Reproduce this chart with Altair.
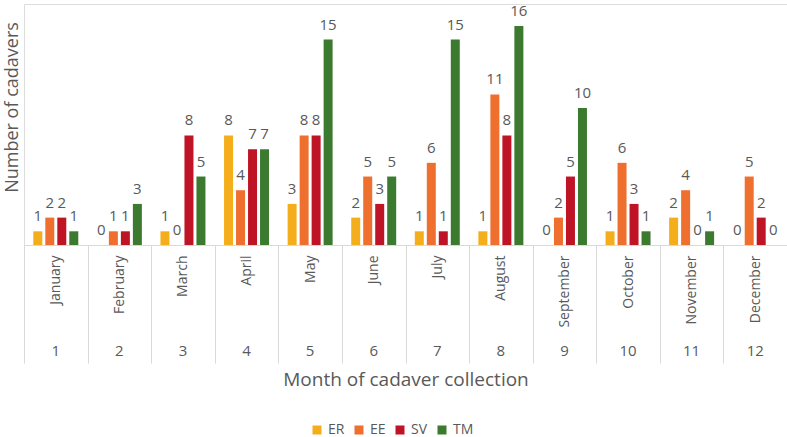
import altair as alt
import pandas as pd

months = ["January", "February", "March", "April", "May", "June", "July",
          "August", "September", "October", "November", "December"]
month_nums = [1, 2, 3, 4, 5, 6, 7, 8, 9, 10, 11, 12]
series = ["ER", "EE", "SV", "TM"]
er = [1, 0, 1, 8, 3, 2, 1, 1, 0, 1, 2, 0]
ee = [2, 1, 0, 4, 8, 5, 6, 11, 2, 6, 4, 5]
sv = [2, 1, 8, 7, 8, 3, 1, 8, 5, 3, 0, 2]
tm = [1, 3, 5, 7, 15, 5, 15, 16, 10, 1, 1, 0]
colors = ["#F5AE1B", "#EF6F2E", "#BE1425", "#3C7A2F"]

rows = []
for s, vals in zip(series, [er, ee, sv, tm]):
    for m, v in zip(months, vals):
        rows.append({"Month": m, "Series": s, "Value": v})
df = pd.DataFrame(rows)
mdf = pd.DataFrame({"Month": months, "Num": month_nums})

FONT = "Open Sans"
GRAY = "#595959"
LINE = "#D9D9D9"

xscale = alt.Scale(domain=months, paddingInner=0, paddingOuter=0)
offscale = alt.Scale(domain=series, paddingInner=0.25, paddingOuter=0.775)
yscale = alt.Scale(domain=[0, 17.6], nice=False)

x_enc = alt.X("Month:N", scale=xscale, sort=months,
              axis=alt.Axis(title="Month of cadaver collection", labelAngle=-90,
                            labelAlign="right", labelBaseline="middle",
                            labelPadding=-108, tickBand="extent", tickSize=118,
                            tickColor=LINE, domainColor=LINE, labelColor=GRAY,
                            labelFont=FONT, labelFontSize=14, titleFont=FONT,
                            titleFontSize=19, titleFontWeight="normal",
                            titleColor=GRAY, titleY=134, titleBaseline="middle",
                            titleX=381.5))

bars = alt.Chart(df).mark_bar().encode(
    x=x_enc,
    xOffset=alt.XOffset("Series:N", scale=offscale, sort=series),
    y=alt.Y("Value:Q", scale=yscale,
            axis=alt.Axis(title="Number of cadavers", labels=False, ticks=False,
                          domain=False, grid=False, titleFont=FONT,
                          titleFontSize=18, titleFontWeight="normal",
                          titleColor=GRAY, titleX=-12, titleY=103,
                          titleBaseline="middle", titleAngle=-90)),
    color=alt.Color("Series:N", sort=series,
                    scale=alt.Scale(domain=series, range=colors),
                    legend=alt.Legend(title=None, orient="none", direction="horizontal",
                                      legendX=286, legendY=419, symbolType="square",
                                      symbolSize=81, symbolStrokeWidth=0,
                                      labelFont=FONT, labelFontSize=14,
                                      labelColor=GRAY, columnPadding=7,
                                      labelOffset=4)),
)

labels = alt.Chart(df).mark_text(baseline="middle", dy=-15, font=FONT,
                                  fontSize=15, color=GRAY).encode(
    x=alt.X("Month:N", scale=xscale, sort=months),
    xOffset=alt.XOffset("Series:N", scale=offscale, sort=series),
    y=alt.Y("Value:Q", scale=yscale),
    text="Value:Q",
)

nums = alt.Chart(mdf).mark_text(baseline="middle", font=FONT, fontSize=15,
                                color=GRAY).encode(
    x=alt.X("Month:N", scale=xscale, sort=months),
    y=alt.value(347),
    text="Num:Q",
)

chart = alt.layer(bars, labels, nums).properties(
    width=763, height=241,
    autosize=alt.AutoSizeParams(type="none"),
    padding={"left": 24, "top": 4, "right": 0, "bottom": 192},
).configure_view(stroke=None).configure(background="white")

chart.save("out.html", embed_options={"renderer": "svg", "actions": False})
